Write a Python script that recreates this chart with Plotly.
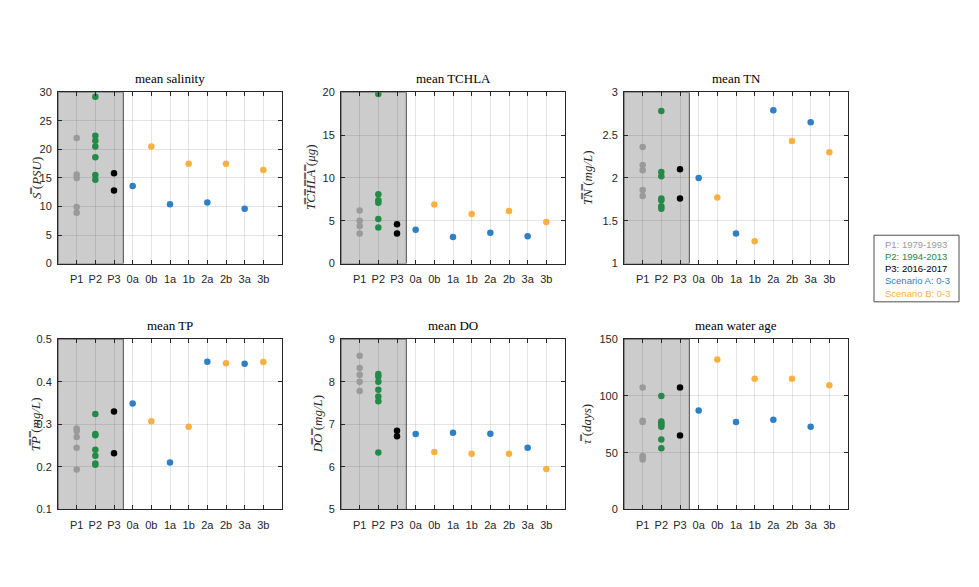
import plotly.graph_objects as go

W, H = 979, 587

categories = ["P1", "P2", "P3", "0a", "0b", "1a", "1b", "2a", "2b", "3a", "3b"]
scen_a_cats = ["0a", "1a", "2a", "3a"]
scen_b_cats = ["0b", "1b", "2b", "3b"]

# ---- data: salinity
sal_p1 = [22.0, 15.6, 15.0, 9.9, 8.9]
sal_p2 = [29.2, 22.4, 21.5, 20.5, 18.6, 15.5, 14.7]
sal_p3 = [15.8, 12.8]
sal_a = [13.6, 10.4, 10.7, 9.6]
sal_b = [20.5, 17.5, 17.5, 16.4]

# ---- TCHLA
chl_p1 = [6.2, 5.0, 4.4, 3.5]
chl_p2 = [19.8, 8.1, 7.4, 7.1, 5.2, 4.2]
chl_p3 = [4.6, 3.5]
chl_a = [3.95, 3.1, 3.6, 3.2]
chl_b = [6.9, 5.8, 6.15, 4.85]

# ---- TN
tn_p1 = [2.36, 2.15, 2.09, 1.86, 1.79]
tn_p2 = [2.78, 2.07, 2.02, 1.76, 1.74, 1.67, 1.64]
tn_p3 = [2.10, 1.76]
tn_a = [2.00, 1.35, 2.79, 2.65]
tn_b = [1.77, 1.26, 2.43, 2.30]

# ---- TP
tp_p1 = [0.290, 0.284, 0.270, 0.245, 0.194]
tp_p2 = [0.324, 0.277, 0.274, 0.240, 0.226, 0.208, 0.205]
tp_p3 = [0.330, 0.232]
tp_a = [0.349, 0.210, 0.447, 0.442]
tp_b = [0.307, 0.294, 0.443, 0.446]

# ---- DO
do_p1 = [8.61, 8.32, 8.16, 8.0, 7.78]
do_p2 = [8.18, 8.12, 8.0, 7.81, 7.65, 7.54, 6.34]
do_p3 = [6.85, 6.72]
do_a = [6.77, 6.80, 6.78, 6.45]
do_b = [6.35, 6.31, 6.31, 5.95]

# ---- water age
age_p1 = [107.3, 78.0, 77.0, 47.0, 45.5, 44.0]
age_p2 = [99.8, 77.5, 76.0, 74.5, 72.8, 61.7, 53.9]
age_p3 = [107.3, 65.1]
age_a = [87.2, 76.9, 78.9, 72.8]
age_b = [131.9, 115.0, 115.0, 109.3]

OL = "\u033f"
def dbl(s):
    return "".join(c + OL for c in s)

panels = [
    dict(title="mean salinity", p=(sal_p1, sal_p2, sal_p3, sal_a, sal_b), rng=[0, 30], dt=5,
         ylab="<i>" + dbl("S") + "</i> (<i>PSU</i>)", lx=37),
    dict(title="mean TCHLA", p=(chl_p1, chl_p2, chl_p3, chl_a, chl_b), rng=[0, 20], dt=5,
         ylab="<i>" + dbl("TCHLA") + "</i> (<i>\u03bcg</i>)", lx=311),
    dict(title="mean TN", p=(tn_p1, tn_p2, tn_p3, tn_a, tn_b), rng=[1, 3], dt=0.5,
         ylab="<i>" + dbl("TN") + "</i> (<i>mg/L</i>)", lx=588),
    dict(title="mean TP", p=(tp_p1, tp_p2, tp_p3, tp_a, tp_b), rng=[0.1, 0.5], dt=0.1,
         ylab="<i>" + dbl("TP") + "</i> (<i>mg/L</i>)", lx=35),
    dict(title="mean DO", p=(do_p1, do_p2, do_p3, do_a, do_b), rng=[5, 9], dt=1,
         ylab="<i>" + dbl("DO") + "</i> (<i>mg/L</i>)", lx=317),
    dict(title="mean water age", p=(age_p1, age_p2, age_p3, age_a, age_b), rng=[0, 150], dt=50,
         ylab="<i>" + dbl("\u03c4") + "</i> (<i>days</i>)", lx=586),
]

col_p1 = "#9a9a9a"
col_p2 = "#248a47"
col_p3 = "#000000"
col_a = "#2e7fc4"
col_b = "#fdb040"

xpix = [(58, 282), (341, 565), (624, 848)]
ypix = [(88, 263), (340, 514)]

fig = go.Figure()
annotations = []
shapes = []
idx = {c: i + 1 for i, c in enumerate(categories)}

for k, pn in enumerate(panels):
    r, c = divmod(k, 3)
    n = k + 1
    xa = "xaxis" if n == 1 else f"xaxis{n}"
    ya = "yaxis" if n == 1 else f"yaxis{n}"
    xr = "x" if n == 1 else f"x{n}"
    yr = "y" if n == 1 else f"y{n}"
    x0, x1 = xpix[c]
    yt, yb = ypix[r]
    p1, p2, p3, a, b = pn["p"]
    groups = [
        ([idx["P1"]] * len(p1), p1, col_p1),
        ([idx["P2"]] * len(p2), p2, col_p2),
        ([idx["P3"]] * len(p3), p3, col_p3),
        ([idx[q] for q in scen_a_cats], a, col_a),
        ([idx[q] for q in scen_b_cats], b, col_b),
    ]
    for gx, gy, col in groups:
        fig.add_trace(go.Scatter(x=gx, y=gy, mode="markers", xaxis=xr, yaxis=yr,
                                 marker=dict(color=col, size=6.5, line=dict(width=0)),
                                 showlegend=False, hoverinfo="skip"))
    common = dict(showline=True, linecolor="#262626", linewidth=1, mirror="allticks",
                  ticks="inside", ticklen=4, tickcolor="#262626",
                  showgrid=True, gridcolor="rgba(38,38,38,0.12)", gridwidth=1,
                  zeroline=False,
                  tickfont=dict(family="Liberation Sans, Arial", size=11, color="#262626"))
    fig.update_layout({
        xa: dict(domain=[x0 / W, x1 / W], anchor=yr, range=[0, 12],
                 tickmode="array", tickvals=list(range(1, 12)), ticktext=categories,
                 ticklabelstandoff=5, **common),
        ya: dict(domain=[1 - yb / H, 1 - yt / H], anchor=xr, range=pn["rng"], dtick=pn["dt"],
                 tick0=pn["rng"][0], ticklabelstandoff=3, **common),
    })
    shapes.append(dict(type="rect", xref=xr, yref=yr, x0=0, x1=3.5,
                       y0=pn["rng"][0], y1=pn["rng"][1], layer="below",
                       fillcolor="#cccccc", line=dict(color="#4d4d4d", width=1)))
    annotations.append(dict(text=pn["title"], xref="paper", yref="paper",
                            x=(x0 + x1) / 2 / W, y=1 - (yt - 4) / H, xanchor="center",
                            yanchor="bottom", showarrow=False,
                            font=dict(family="Liberation Serif, Times New Roman", size=13, color="#000")))
    annotations.append(dict(text=pn["ylab"], xref="paper", yref="paper",
                            x=pn["lx"] / W, y=1 - (yt + yb) / 2 / H, xanchor="center",
                            yanchor="middle", textangle=-90, showarrow=False,
                            font=dict(family="Liberation Serif, Times New Roman", size=13, color="#262626")))

# legend box
shapes.append(dict(type="rect", xref="paper", yref="paper", x0=874 / W, x1=959 / W,
                   y0=1 - 302 / H, y1=1 - 234 / H, line=dict(color="#4d4d4d", width=1),
                   fillcolor="white"))
leg = [("P1: 1979-1993", col_p1), ("P2: 1994-2013", col_p2), ("P3: 2016-2017", col_p3),
       ("Scenario A: 0-3", col_a), ("Scenario B: 0-3", col_b)]
for i, (t, col) in enumerate(leg):
    annotations.append(dict(text=t, xref="paper", yref="paper", x=883 / W,
                            y=1 - (243 + i * 12.5) / H, xanchor="left", yanchor="middle",
                            showarrow=False,
                            font=dict(family="Liberation Sans, Arial", size=9.5, color=col)))

fig.update_layout(width=W, height=H, margin=dict(l=0, r=0, t=0, b=0),
                  paper_bgcolor="white", plot_bgcolor="white",
                  shapes=shapes, annotations=annotations, showlegend=False)
fig.write_html("out.html", config={"displayModeBar": False},
               post_script="document.body.style.margin='0';document.body.style.overflow='hidden';")
